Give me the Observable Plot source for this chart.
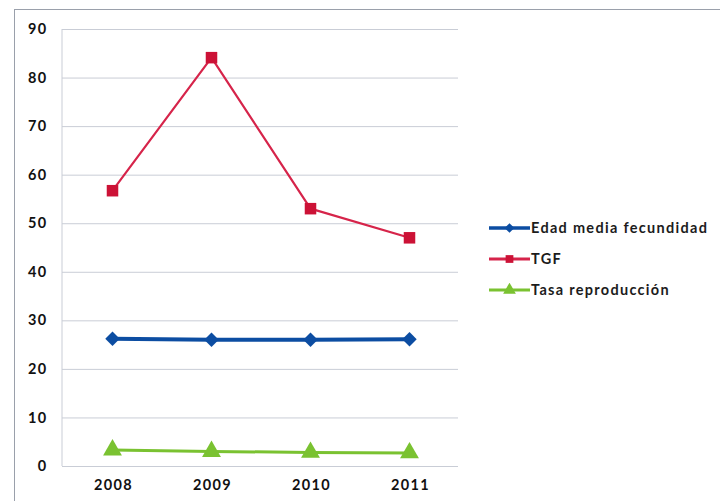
<!DOCTYPE html>
<html>
<head>
<meta charset="utf-8">
<script src="https://cdn.jsdelivr.net/npm/d3@7"></script>
<script src="https://cdn.jsdelivr.net/npm/@observablehq/plot@0.6"></script>
<style>
  body { margin: 0; background: #fff; }
  #wrap { position: relative; width: 720px; height: 501px; overflow: hidden; font-family: Lato, "Open Sans", sans-serif; }
  #frame { position: absolute; left: 14px; top: 9px; width: 720px; height: 520px; border-left: 1.5px solid #9aa0ab; border-top: 1.5px solid #9aa0ab; }
  #legend { position: absolute; left: 489px; top: 212px; }
  .lg { display: flex; align-items: center; height: 31px; font-size: 14.5px; font-weight: 700; color: #1c1c1c; letter-spacing: 1.3px; }
  .lg svg { margin-right: 1px; }
  #wrap svg text { letter-spacing: 1.4px; }
</style>
</head>
<body>
<div id="wrap"><div id="frame"></div><div id="legend"></div></div>
<script>
const years = ["2008", "2009", "2010", "2011"];
const seriesNames = ["Edad media fecundidad", "TGF", "Tasa reproducción"];
const edad = [26.3, 26.1, 26.1, 26.2];
const tgf = [56.8, 84.2, 53.1, 47.1];
const tasa = [3.4, 3.1, 2.9, 2.8];
const yTicks = [0, 10, 20, 30, 40, 50, 60, 70, 80, 90];

const colors = ["#0c4da2", "#cc1236", "#7ac231"];
const symbols = ["diamond2", "square", "triangle"];
const lineColors = ["#0c4da2", "#d6244a", "#7ac231"];
const widths = [4, 2.2, 3];
const values = [edad, tgf, tasa];

const data = [];
seriesNames.forEach((s, i) => years.forEach((y, j) => data.push({series: s, year: y, value: values[i][j], idx: i})));

const marks = [
  Plot.ruleY(yTicks, {stroke: "#c9cdd6", strokeWidth: 1, strokeOpacity: 1}),
  Plot.axisY({ticks: yTicks, tickSize: 0, tickPadding: 15, fontSize: 14.5, fontWeight: 700, fill: "#111"}),
  Plot.axisX({tickSize: 0, tickPadding: 13, fontSize: 14.5, fontWeight: 700, fill: "#111", dx: 1})
];
seriesNames.forEach((s, i) => {
  const d = data.filter(r => r.idx === i);
  marks.push(Plot.line(d, {x: "year", y: "value", stroke: lineColors[i], strokeWidth: widths[i]}));
  marks.push(Plot.dot(d, {x: "year", y: "value", symbol: () => symbols[i], fill: colors[i], stroke: "none", r: i === 2 ? 7 : 6.5}));
});

const chart = Plot.plot({
  width: 720,
  height: 501,
  marginLeft: 62,
  marginRight: 262,
  marginTop: 29,
  marginBottom: 35,
  style: {background: "transparent", fontFamily: "Lato, 'Open Sans', sans-serif"},
  x: {type: "point", domain: years, padding: 0.5, label: null},
  y: {domain: [0, 90], label: null},
  marks
});
chart.style.position = "absolute";
chart.style.left = "0";
chart.style.top = "0";
const wrap = document.getElementById("wrap");
wrap.appendChild(chart);

const ys = chart.scale("y");
const ns = "http://www.w3.org/2000/svg";
const axisLine = document.createElementNS(ns, "line");
axisLine.setAttribute("x1", 62); axisLine.setAttribute("x2", 62);
axisLine.setAttribute("y1", ys.apply(90)); axisLine.setAttribute("y2", ys.apply(0));
axisLine.setAttribute("stroke", "#c9cdd6");
chart.insertBefore(axisLine, chart.firstChild.nextSibling);

const legend = document.getElementById("legend");
seriesNames.forEach((s, i) => {
  const row = document.createElement("div");
  row.className = "lg";
  const sym = {diamond2: d3.symbolDiamond2, square: d3.symbolSquare, triangle: d3.symbolTriangle}[symbols[i]];
  const path = d3.symbol(sym, i === 2 ? 70 : 60)();
  row.innerHTML = `<svg width="41" height="14"><line x1="0" x2="41" y1="7" y2="7" stroke="${lineColors[i]}" stroke-width="${i === 0 ? 3.5 : 3}"/><path transform="translate(20.5,7)" d="${path}" fill="${colors[i]}"/></svg><span>${s}</span>`;
  legend.appendChild(row);
});
</script>
</body>
</html>
